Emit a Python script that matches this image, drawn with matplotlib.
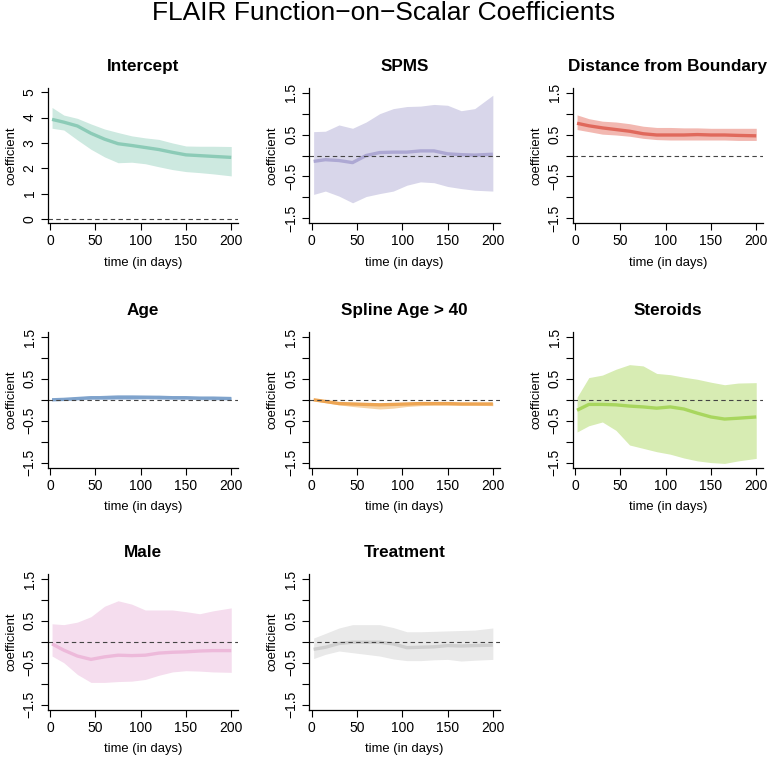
import numpy as np
import matplotlib.pyplot as plt
from matplotlib.ticker import FixedLocator, FixedFormatter

plt.rcParams["font.family"] = ["Liberation Sans", "DejaVu Sans"]

# time grid (days)
time = [2, 15, 30, 45, 60, 75, 90, 105, 120, 135, 150, 165, 180, 200]

names = ["Intercept", "SPMS", "Distance from Boundary", "Age",
         "Spline Age > 40", "Steroids", "Male", "Treatment"]

intercept_est = [3.93, 3.82, 3.67, 3.38, 3.15, 2.97, 2.90, 2.82, 2.74, 2.63, 2.53, 2.50, 2.47, 2.43]
intercept_hi = [4.40, 4.10, 3.97, 3.75, 3.55, 3.41, 3.28, 3.20, 3.14, 3.00, 2.88, 2.87, 2.87, 2.86]
intercept_lo = [3.58, 3.51, 3.12, 2.75, 2.45, 2.22, 2.24, 2.18, 2.06, 1.95, 1.87, 1.83, 1.78, 1.70]

spms_est = [-0.14, -0.10, -0.12, -0.17, 0.00, 0.07, 0.08, 0.08, 0.11, 0.11, 0.04, 0.02, 0.01, 0.03]
spms_hi = [0.57, 0.58, 0.73, 0.65, 0.80, 1.00, 1.12, 1.17, 1.18, 1.22, 1.20, 1.07, 1.12, 1.44]
spms_lo = [-0.93, -0.85, -0.97, -1.13, -0.98, -0.91, -0.85, -0.71, -0.63, -0.65, -0.74, -0.79, -0.83, -0.85]

dist_est = [0.77, 0.71, 0.66, 0.62, 0.58, 0.52, 0.49, 0.49, 0.49, 0.50, 0.49, 0.49, 0.48, 0.47]
dist_hi = [0.97, 0.88, 0.82, 0.80, 0.76, 0.70, 0.67, 0.67, 0.66, 0.66, 0.65, 0.65, 0.65, 0.65]
dist_lo = [0.62, 0.57, 0.51, 0.49, 0.46, 0.41, 0.38, 0.37, 0.37, 0.37, 0.37, 0.37, 0.36, 0.36]

age_est = [0.00, 0.01, 0.03, 0.05, 0.05, 0.06, 0.06, 0.06, 0.06, 0.05, 0.05, 0.04, 0.04, 0.03]
age_hi = [0.02, 0.04, 0.07, 0.09, 0.11, 0.12, 0.12, 0.11, 0.10, 0.09, 0.08, 0.08, 0.07, 0.07]
age_lo = [-0.01, -0.01, 0.00, 0.01, 0.01, 0.01, 0.01, 0.02, 0.01, 0.01, 0.01, 0.00, 0.00, 0.00]

spline_est = [0.00, -0.04, -0.09, -0.10, -0.11, -0.12, -0.11, -0.10, -0.09, -0.09, -0.09, -0.10, -0.10, -0.10]
spline_hi = [0.02, 0.00, -0.05, -0.06, -0.07, -0.08, -0.07, -0.06, -0.06, -0.06, -0.06, -0.06, -0.06, -0.06]
spline_lo = [-0.02, -0.07, -0.12, -0.16, -0.19, -0.22, -0.20, -0.16, -0.14, -0.13, -0.13, -0.13, -0.13, -0.14]

steroid_est = [-0.25, -0.11, -0.11, -0.12, -0.15, -0.17, -0.20, -0.17, -0.22, -0.32, -0.41, -0.46, -0.44, -0.41]
steroid_hi = [0.06, 0.53, 0.59, 0.73, 0.84, 0.81, 0.63, 0.60, 0.54, 0.49, 0.42, 0.36, 0.40, 0.41]
steroid_lo = [-0.77, -0.62, -0.53, -0.73, -1.08, -1.16, -1.24, -1.30, -1.39, -1.46, -1.50, -1.52, -1.46, -1.40]

male_est = [-0.05, -0.20, -0.34, -0.42, -0.36, -0.32, -0.33, -0.32, -0.27, -0.25, -0.24, -0.22, -0.21, -0.21]
male_hi = [0.43, 0.41, 0.47, 0.60, 0.85, 0.98, 0.90, 0.76, 0.76, 0.76, 0.72, 0.67, 0.74, 0.81]
male_lo = [-0.34, -0.50, -0.78, -0.97, -0.97, -0.95, -0.94, -0.90, -0.80, -0.72, -0.69, -0.70, -0.72, -0.73]

treat_est = [-0.18, -0.13, -0.04, -0.01, -0.01, -0.01, -0.05, -0.14, -0.13, -0.12, -0.09, -0.10, -0.09, -0.08]
treat_hi = [0.09, 0.20, 0.33, 0.41, 0.41, 0.41, 0.34, 0.24, 0.24, 0.25, 0.26, 0.27, 0.28, 0.33]
treat_lo = [-0.40, -0.30, -0.22, -0.26, -0.30, -0.34, -0.41, -0.45, -0.45, -0.43, -0.42, -0.46, -0.44, -0.42]

estimates = [intercept_est, spms_est, dist_est, age_est, spline_est, steroid_est, male_est, treat_est]
uppers = [intercept_hi, spms_hi, dist_hi, age_hi, spline_hi, steroid_hi, male_hi, treat_hi]
lowers = [intercept_lo, spms_lo, dist_lo, age_lo, spline_lo, steroid_lo, male_lo, treat_lo]

line_colors = ["#8CCBB7", "#ADA8D3", "#E0695C", "#7FA3CC", "#EDA553", "#A8D65E", "#EDB9DA", "#CFCFCF"]
band_colors = ["#CDE9E0", "#D8D6EA", "#F2B8B1", "#B8CCE4", "#F6D2A4", "#D7ECB3", "#F5DDEE", "#E9E9E9"]

W, H = 767, 758
fig = plt.figure(figsize=(W / 100, H / 100), dpi=100)

col_left = [47.7, 309.3, 572.7]
row_top = [87.7, 332.0, 574.0]
ax_w, ax_h = 190.6, 135.6

fig.text(0.5, 1 - 0.5 / H, "FLAIR Function\u2212on\u2212Scalar Coefficients",
         ha="center", va="top", fontsize=19)

for i, name in enumerate(names):
    r, c = divmod(i, 3)
    left = col_left[c] / W
    bottom = 1 - (row_top[r] + ax_h) / H
    ax = fig.add_axes([left, bottom, ax_w / W, ax_h / H])

    ax.fill_between(time, lowers[i], uppers[i], color=band_colors[i], lw=0)
    ax.plot(time, estimates[i], color=line_colors[i], lw=2.4, solid_capstyle="butt")
    ax.axhline(0, color="#444444", lw=0.8, ls=(0, (4, 3)))

    ax.set_xlim(-2.8, 207.8)
    ax.set_xticks([0, 50, 100, 150, 200])
    if i == 0:
        ax.set_ylim(-0.17, 5.18)
        ax.set_yticks([0, 1, 2, 3, 4, 5])
    else:
        ax.set_ylim(-1.62, 1.62)
        yt = [-1.5, -1.0, -0.5, 0.0, 0.5, 1.0, 1.5]
        ax.yaxis.set_major_locator(FixedLocator(yt))
        ax.yaxis.set_major_formatter(FixedFormatter(
            ["\u22121.5", "", "\u22120.5", "", "0.5", "", "1.5"]))
    for lab in ax.get_yticklabels():
        lab.set_rotation(90)
        lab.set_va("center")

    for s in ["top", "right"]:
        ax.spines[s].set_visible(False)
    for s in ["left", "bottom"]:
        ax.spines[s].set_linewidth(0.9)
    ax.tick_params(direction="out", length=5, width=0.8, labelsize=10, pad=3)

    ax.set_title(name, fontsize=12.3, fontweight="bold", pad=12)
    ax.set_xlabel("time (in days)", fontsize=9.4, labelpad=6)
    ax.set_ylabel("coefficient", fontsize=9.4, labelpad=4)

fig.savefig("out.png", dpi=100)
